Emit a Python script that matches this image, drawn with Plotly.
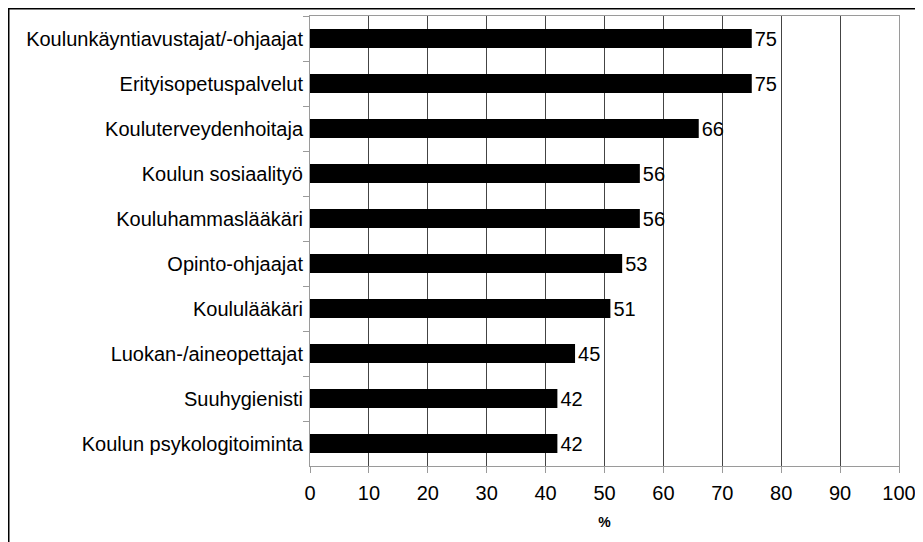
import plotly.graph_objects as go

categories = [
    "Koulunkäyntiavustajat/-ohjaajat",
    "Erityisopetuspalvelut",
    "Kouluterveydenhoitaja",
    "Koulun sosiaalityö",
    "Kouluhammaslääkäri",
    "Opinto-ohjaajat",
    "Koululääkäri",
    "Luokan-/aineopettajat",
    "Suuhygienisti",
    "Koulun psykologitoiminta",
]
values = [75, 75, 66, 56, 56, 53, 51, 45, 42, 42]
x_ticks = [0, 10, 20, 30, 40, 50, 60, 70, 80, 90, 100]

FONT = "Liberation Sans, Arial, sans-serif"

# page body has an 8px default margin; figure sized to fill the rest of the window
W, H = 915, 534
ML, MR, MT, MB = 302, 24, 8, 76
PW, PH = W - ML - MR, H - MT - MB

fig = go.Figure(
    go.Bar(
        x=values,
        y=categories,
        orientation="h",
        marker=dict(color="#000000", line=dict(width=0)),
        width=0.42,
        text=[str(v) for v in values],
        textposition="outside",
        textfont=dict(family=FONT, size=20, color="#000000"),
        constraintext="none",
        cliponaxis=False,
    )
)

fig.update_layout(
    width=W,
    height=H,
    margin=dict(l=ML, r=MR, t=MT, b=MB),
    paper_bgcolor="white",
    plot_bgcolor="white",
    showlegend=False,
    font=dict(family=FONT, size=20, color="#000000"),
    xaxis=dict(
        range=[0, 100],
        tickvals=x_ticks,
        ticktext=[str(t) for t in x_ticks],
        showgrid=True,
        gridcolor="#444444",
        gridwidth=1,
        zeroline=False,
        showline=True,
        linecolor="#9a9a9a",
        linewidth=1,
        mirror=True,
        ticks="outside",
        ticklen=6,
        tickcolor="#9a9a9a",
        ticklabelstandoff=3,
        tickfont=dict(family=FONT, size=20, color="#000000"),
        title=dict(text="<b>%</b>", font=dict(family=FONT, size=14, color="#000000"), standoff=14),
        fixedrange=True,
    ),
    yaxis=dict(
        categoryorder="array",
        categoryarray=categories,
        autorange="reversed",
        showgrid=False,
        showline=True,
        linecolor="#9a9a9a",
        linewidth=1,
        mirror=True,
        ticks="outside",
        tickson="boundaries",
        ticklen=6,
        tickcolor="#9a9a9a",
        ticklabelstandoff=2,
        tickfont=dict(family=FONT, size=20, color="#000000"),
        fixedrange=True,
    ),
)

# outer chart frame (only top and left edges visible in the reference)
fig.add_shape(
    type="rect",
    xref="paper", yref="paper",
    x0=(0.75 - ML) / PW, x1=1.2,
    y0=-0.5, y1=(PH + MT - 0.75) / PH,
    line=dict(color="#000000", width=1.5),
    fillcolor="rgba(0,0,0,0)",
    layer="below",
)

fig.write_html("out.html")
